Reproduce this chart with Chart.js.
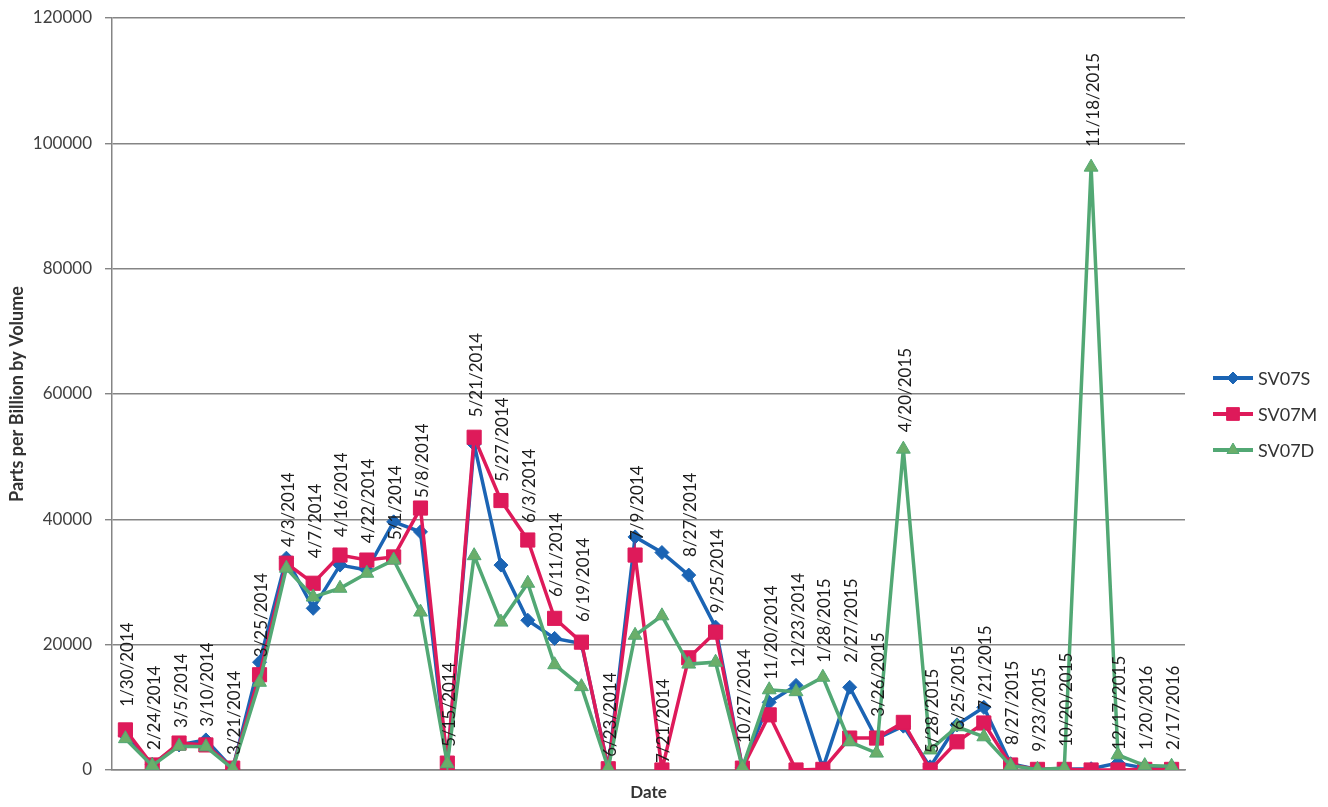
<!DOCTYPE html>
<html>
<head>
<meta charset="utf-8">
<title>SV07 Parts per Billion by Volume</title>
<script src="https://cdn.jsdelivr.net/npm/chart.js@4.4.1/dist/chart.umd.min.js"></script>
<style>
  html, body { margin: 0; padding: 0; background: #ffffff; }
  canvas { display: block; }
</style>
</head>
<body>
<canvas id="chartPpbv" width="1328" height="807"></canvas>
<script>
// Sample dates (categories)
const dates = ["1/30/2014", "2/24/2014", "3/5/2014", "3/10/2014", "3/21/2014", "3/25/2014", "4/3/2014", "4/7/2014",
    "4/16/2014", "4/22/2014", "5/1/2014", "5/8/2014", "5/15/2014", "5/21/2014", "5/27/2014", "6/3/2014", "6/11/2014",
    "6/19/2014", "6/23/2014", "7/9/2014", "7/21/2014", "8/27/2014", "9/25/2014", "10/27/2014", "11/20/2014",
    "12/23/2014", "1/28/2015", "2/27/2015", "3/26/2015", "4/20/2015", "5/28/2015", "6/25/2015", "7/21/2015",
    "8/27/2015", "9/23/2015", "10/20/2015", "11/18/2015", "12/17/2015", "1/20/2016", "2/17/2016"];

// Values per well depth (ppbv)
const sv07s = [5500, 900, 4000, 4800, 200, 17200, 33800, 25800, 32700, 31900, 39600, 38000, 800, 52000, 32700,
    23900, 21000, 20200, 300, 37200, 34700, 31100, 22800, 400, 10800, 13500, 300, 13200, 5000, 7000, 500, 7200,
    10000, 1000, 100, 100, 200, 1100, 300, 300];
const sv07m = [6400, 800, 4300, 4000, 300, 15200, 33000, 29800, 34300, 33500, 34000, 41800, 1100, 53100, 43000,
    36700, 24200, 20400, 200, 34300, 0, 17900, 22000, 300, 8800, 0, 100, 5100, 5100, 7600, 0, 4500, 7500, 800,
    100, 100, 0, 0, 100, 100];
const sv07d = [5000, 700, 3800, 3700, 200, 14000, 32200, 27600, 29000, 31400, 33500, 25200, 1000, 34200, 23600,
    29800, 16800, 13300, 300, 21500, 24600, 16900, 17200, 400, 12800, 12500, 14800, 4500, 2700, 51200, 3200, 6900,
    5300, 700, 100, 300, 96200, 2400, 700, 600];

// Where each date label starts (ppbv, bottom of the rotated text)
const labelBase = [10100, 3200, 6700, 6900, 2400, 18000, 35600, 33800, 37200, 36200, 36700, 43400, 3700, 56300,
    46000, 39400, 27600, 23600, 2100, 36700, 1100, 34000, 25000, 4300, 14400, 16400, 17100, 17100, 8500, 53900,
    2700, 6400, 9600, 4000, 2900, 3700, 99400, 3200, 3200, 3200];

const yMax = 120000;
const yStep = 20000;

const gridGray = "#858585";

// date text drawn above the points, rotated
const dateLabels = {
    id: "dateLabels",
    afterDatasetsDraw(chart) {
        const { ctx, scales: { x, y } } = chart;
        ctx.save();
        ctx.font = "17px Lato";
        ctx.fillStyle = "#1c1c1c";
        ctx.textAlign = "left";
        ctx.textBaseline = "middle";
        dates.forEach((d, i) => {
            ctx.save();
            ctx.translate(x.getPixelForValue(i) + 2, y.getPixelForValue(labelBase[i]));
            ctx.rotate(-Math.PI / 2);
            ctx.fillText(d, 0, 0);
            ctx.restore();
        });
        ctx.restore();
    }
};

// legend on the right: line with marker, like the spreadsheet one
const sideLegend = {
    id: "sideLegend",
    afterDraw(chart) {
        const { ctx, chartArea } = chart;
        const x0 = chartArea.right + 28;
        ctx.save();
        chart.data.datasets.forEach((ds, i) => {
            const yy = chartArea.top + 360 + i * 36;
            ctx.strokeStyle = ds.borderColor;
            ctx.lineWidth = 4;
            ctx.beginPath();
            ctx.moveTo(x0, yy);
            ctx.lineTo(x0 + 40, yy);
            ctx.stroke();
            ctx.fillStyle = ds.pointBackgroundColor;
            ctx.strokeStyle = ds.pointBorderColor;
            ctx.lineWidth = 1;
            Chart.helpers.drawPoint(ctx, {
                pointStyle: ds.pointStyle,
                radius: ds.pointRadius - 1,
                rotation: 0,
                borderWidth: 1
            }, x0 + 20, yy);
            ctx.fillStyle = "#333333";
            ctx.font = "18px Lato";
            ctx.textAlign = "left";
            ctx.textBaseline = "middle";
            ctx.fillText(ds.label, x0 + 45, yy + 1);
        });
        ctx.restore();
    }
};

const ctx = document.getElementById("chartPpbv");

new Chart(ctx, {
    type: "line",
    data: {
        labels: dates,
        datasets: [{
            label: "SV07S",
            data: sv07s,
            borderColor: "#1b64b4",
            pointBackgroundColor: "#1b64b4",
            pointBorderColor: "#1b64b4",
            pointStyle: "rectRot",
            pointRadius: 7,
            order: 3
        }, {
            label: "SV07M",
            data: sv07m,
            borderColor: "#de1a5a",
            pointBackgroundColor: "#de1a5a",
            pointBorderColor: "#de1a5a",
            pointStyle: "rect",
            pointRadius: 10,
            order: 2
        }, {
            label: "SV07D",
            data: sv07d,
            borderColor: "#52a874",
            pointBackgroundColor: "#6aae6a",
            pointBorderColor: "#52a874",
            pointStyle: "triangle",
            pointRadius: 8,
            order: 1
        }]
    },
    options: {
        responsive: false,
        animation: false,
        devicePixelRatio: 1,
        layout: { autoPadding: false, padding: { left: 0, top: 18, right: 143, bottom: 0 } },
        elements: {
            line: { borderWidth: 3.5, tension: 0 },
            point: { borderWidth: 1, hoverRadius: 8 }
        },
        plugins: {
            legend: { display: false },
            tooltip: { enabled: false }
        },
        scales: {
            x: {
                offset: true,
                grid: { display: false, drawTicks: false },
                border: { display: true, color: gridGray, width: 1.5 },
                ticks: { display: false },
                title: {
                    display: true,
                    text: "Date",
                    color: "#333333",
                    font: { family: "Lato", size: 17, weight: "bold" },
                    padding: { top: 4, bottom: 4 }
                },
                afterFit: (s) => { s.height = 37; }
            },
            y: {
                min: 0,
                max: yMax,
                grid: { color: gridGray, lineWidth: 1.4, drawTicks: true, tickLength: 7, tickColor: gridGray },
                border: { display: true, color: gridGray, width: 1.5 },
                ticks: {
                    stepSize: yStep,
                    color: "#404040",
                    padding: 13,
                    font: { family: "Lato", size: 17 },
                    callback: (v) => String(v)
                },
                title: {
                    display: true,
                    text: "Parts per Billion by Volume",
                    color: "#333333",
                    font: { family: "Lato", size: 18, weight: "bold" },
                    padding: { top: 6, bottom: 4 }
                },
                // fixed width, and let the top follow the layout padding
                afterFit: (s) => {
                    s.width = 112;
                    s.paddingTop = 8;
                }
            }
        }
    },
    plugins: [dateLabels, sideLegend]
});
</script>
</body>
</html>
